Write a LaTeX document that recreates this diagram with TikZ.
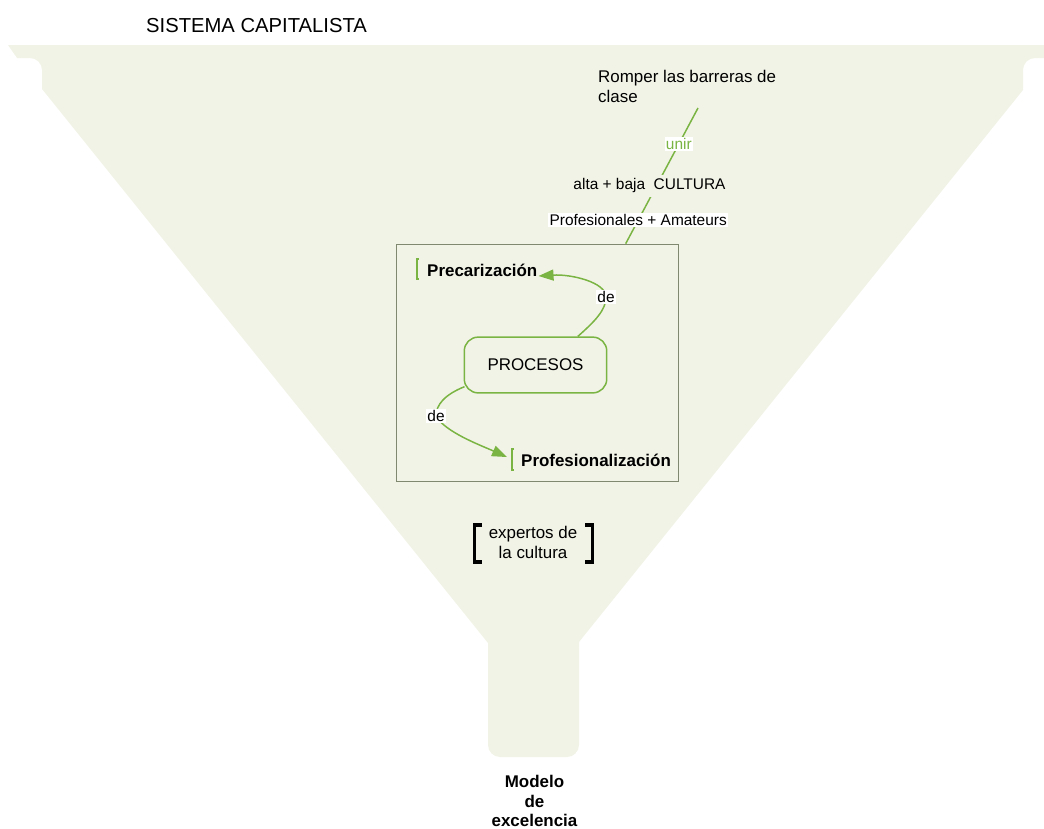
\documentclass[tikz,border=0pt]{standalone}
\usepackage{fontspec}
\setmainfont{Liberation Sans}
\usetikzlibrary{arrows.meta}
\definecolor{funnelbg}{RGB}{242,243,231}
\definecolor{leaf}{RGB}{122,180,66}
\definecolor{framegray}{RGB}{128,136,112}
\begin{document}
\begin{tikzpicture}[x=1bp,y=-1bp,
  txt/.style={inner sep=0pt,font=\fontsize{17}{20}\selectfont},
  boldtxt/.style={txt,font=\fontsize{17}{20}\selectfont\bfseries},
  linklabel/.style={fill=white,inner sep=1.2pt,font=\fontsize{15.5}{18}\selectfont},
  greenlink/.style={draw=leaf,line width=1.5pt},
  arrowlink/.style={greenlink,-{Triangle[length=15bp,width=11bp]}},
  greenbracket/.style={draw=leaf,line width=2pt},
  blackbracket/.style={draw=black,line width=3.2pt}]
\useasboundingbox (0,0) rectangle (1044,829);

% funnel body
\fill[funnelbg] (8,45) -- (1044,45) -- (1044,58) -- (1035,58)
  .. controls (1028.4,58) and (1023,63.4) .. (1023,70) -- (1023,90)
  -- (579,642) -- (579,745)
  .. controls (579,751.6) and (573.6,757) .. (567,757) -- (500,757)
  .. controls (493.4,757) and (488,751.6) .. (488,745) -- (488,643)
  -- (42,89) -- (42,70)
  .. controls (42,63.4) and (36.6,58) .. (30,58) -- (17,58) -- cycle;

% title
\node[txt,font=\fontsize{20.3}{23}\selectfont,anchor=base west] (title) at (146,32) {SISTEMA CAPITALISTA};

% goal at the top
\node[txt,align=left,anchor=north west] (goal) at (598,70.5) {Romper las barreras de\\clase};

% frame holding the processes
\node[draw=framegray,line width=1.5pt,minimum width=283,minimum height=238,inner sep=0pt] (frame) at (537.5,363) {};

% vertical link from the goal down to the frame
\coordinate (ltop) at (698,108);
\coordinate (lbot) at ([xshift=88.5]frame.north);
\draw[greenlink] (ltop) -- (lbot)
  node[pos=0.265,linklabel,text=leaf] (unir) {unir}
  node[pos=0.574,xshift=-7,fill=funnelbg,inner xsep=1pt,inner ysep=4pt,font=\fontsize{15.5}{18}\selectfont] (cultura) {alta + baja\ \ CULTURA}
  node[pos=0.827,linklabel] (amat) {Profesionales + Amateurs};

% central concept
\node[draw=leaf,line width=1.5pt,rounded corners=14,minimum width=143,minimum height=56,txt] (proc) at (535.5,365) {PROCESOS};

% outcomes
\node[boldtxt,anchor=base west] (prec) at (427,276) {Precarización};
\node[boldtxt,anchor=base west] (prof) at (521,466) {Profesionalización};
\draw[greenbracket] ([xshift=-8,yshift=17]prec.base west) -- ([xshift=-10,yshift=17]prec.base west)
  -- ([xshift=-10,yshift=-3]prec.base west) -- ([xshift=-8,yshift=-3]prec.base west);
\draw[greenbracket] ([xshift=-7,yshift=17]prof.base west) -- ([xshift=-9,yshift=17]prof.base west)
  -- ([xshift=-9,yshift=-4]prof.base west) -- ([xshift=-7,yshift=-4]prof.base west);

% arrows from the central concept
\draw[arrowlink] ([xshift=42.5]proc.north) .. controls +(17,-15) and +(0,13) .. (606,297)
  node[linklabel] (de1) {de}
  .. controls +(0,-15) and +(32,-2) .. ([xshift=1]prec.base east);
\draw[arrowlink] ([xshift=1,yshift=7]proc.south west) .. controls +(-20,8) and +(0,-11) .. (436,416)
  node[linklabel] (de2) {de}
  .. controls +(9,16) and +(-27,-12) .. ([xshift=-14,yshift=9]prof.base west);

% experts
\node[txt,align=center] (experts) at (533,542) {expertos de\\la cultura};
\draw[blackbracket] (482,525) -- (474.5,525) -- (474.5,562) -- (482,562);
\draw[blackbracket] (585,525) -- (592.5,525) -- (592.5,562) -- (585,562);

% outcome at the bottom
\node[boldtxt,align=center] (model) at (534.5,801) {Modelo\\de\\excelencia};
\end{tikzpicture}
\end{document}
